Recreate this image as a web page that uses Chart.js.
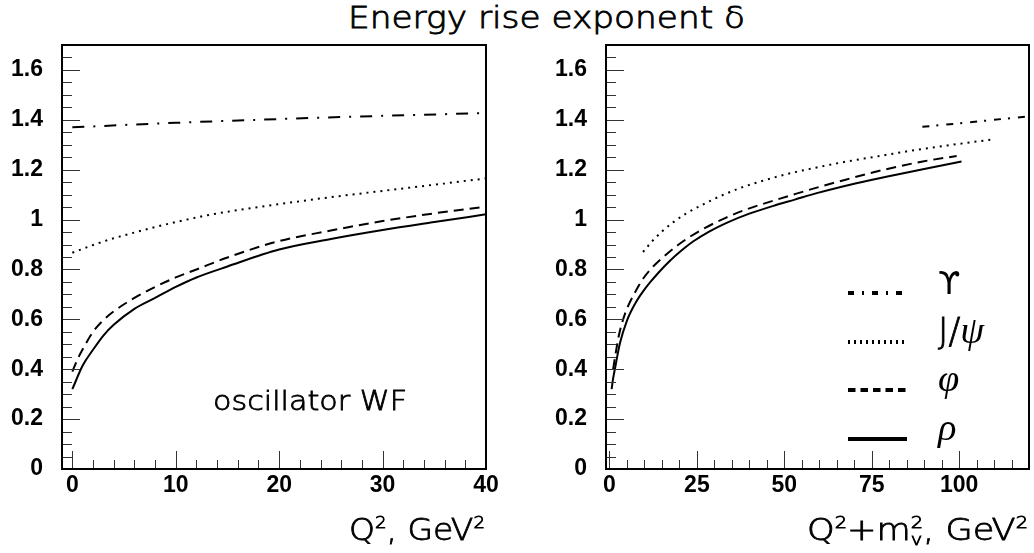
<!DOCTYPE html>
<html>
<head>
<meta charset="utf-8">
<script src="https://cdn.jsdelivr.net/npm/chart.js@4.4.1/dist/chart.umd.min.js"></script>
<style>
  html, body { margin: 0; padding: 0; background: #fff; }
  #page { position: relative; width: 1034px; height: 553px; overflow: hidden; }
  #title { position: absolute; left: 348px; top: 3px; white-space: nowrap;
           font: 200 30px "DejaVu Sans"; line-height: 30px; color: #000;
           -webkit-text-stroke: 0.8px #000; transform-origin: 0 0; }
  canvas { position: absolute; top: 0; }
</style>
</head>
<body>
<div id="page">
  <div id="title">Energy rise exponent δ</div>
  <canvas id="leftchart" width="517" height="553" style="left:0"></canvas>
  <canvas id="rightchart" width="517" height="553" style="left:517px"></canvas>
</div>
<script>
  // Tick values
  const yTicks = [0, 0.2, 0.4, 0.6, 0.8, 1, 1.2, 1.4, 1.6];
  const xTicksLeft = [0, 10, 20, 30, 40];
  const xTicksRight = [0, 25, 50, 75, 100];

  // LEFT PANEL: delta vs Q^2 (oscillator WF)
  const q2_rho = [0, 1, 2, 3, 4, 6, 8, 10, 12, 15, 20, 25, 30, 35, 40];
  const delta_rho = [0.32, 0.415, 0.478, 0.535, 0.578, 0.642, 0.686, 0.73, 0.768, 0.812, 0.88, 0.922, 0.958, 0.99, 1.021];
  const q2_phi = [0, 0.5, 1, 2, 3, 4, 6, 8, 10, 12, 15, 20, 25, 30, 35, 40];
  const delta_phi = [0.39, 0.44, 0.48, 0.55, 0.597, 0.632, 0.686, 0.73, 0.768, 0.80, 0.848, 0.914, 0.956, 0.994, 1.025, 1.052];
  const q2_jpsi = [0, 2, 4, 6, 8, 10, 13, 16, 20, 25, 30, 35, 40];
  const delta_jpsi = [0.867, 0.898, 0.925, 0.948, 0.97, 0.99, 1.017, 1.038, 1.062, 1.09, 1.115, 1.14, 1.165];
  const q2_ups = [0, 10, 20, 30, 40];
  const delta_ups = [1.37, 1.388, 1.403, 1.416, 1.427];

  // RIGHT PANEL: delta vs Q^2 + mV^2
  const s_rho = [0.6, 1.0, 1.6, 3, 5, 7.3, 9.5, 11.6, 14, 17.3, 20.5, 24, 28.5, 33.5, 40, 46.9, 53, 59.3, 67, 74.5, 82, 90, 100.7];
  const d_rho = [0.32, 0.36, 0.405, 0.505, 0.595, 0.662, 0.71, 0.748, 0.787, 0.835, 0.875, 0.913, 0.952, 0.987, 1.024, 1.055, 1.08, 1.106, 1.134, 1.158, 1.18, 1.203, 1.233];
  const s_phi = [1.04, 1.6, 2.6, 4.5, 7, 9.7, 12.5, 15.9, 19.5, 23.1, 27.5, 32.6, 39, 46.9, 53, 59.3, 67, 74.5, 82, 90, 99.3];
  const d_phi = [0.40, 0.45, 0.53, 0.625, 0.70, 0.765, 0.812, 0.856, 0.897, 0.932, 0.968, 1.003, 1.04, 1.076, 1.102, 1.128, 1.158, 1.186, 1.211, 1.234, 1.255];
  const s_jpsi = [9.6, 12, 15, 18.3, 22, 27.8, 32, 37.3, 42, 46.9, 53, 59.3, 66, 77.3, 88, 98, 109];
  const d_jpsi = [0.87, 0.91, 0.952, 0.99, 1.025, 1.068, 1.096, 1.126, 1.148, 1.168, 1.19, 1.209, 1.228, 1.255, 1.28, 1.30, 1.32];
  const s_ups = [89.5, 100, 110, 120];
  const d_ups = [1.372, 1.386, 1.400, 1.414];

  const SANS = '"DejaVu Sans"';
  const SERIF = '"Liberation Serif"';

  function toPoints(xs, ys) {
    return xs.map((x, i) => ({ x: x, y: ys[i] }));
  }

  // text with super/subscripts, optionally stretched to a target width
  function drawRich(ctx, segs, x, y, size, align, targetW) {
    let end = 0, prevStart = 0;
    const items = [];
    segs.forEach(s => {
      const sz = size * (s.scale || 1);
      const font = (s.style || 'normal') + ' ' + (s.weight || 200) + ' ' + sz + 'px ' + (s.family || SANS);
      ctx.font = font;
      const w = ctx.measureText(s.t).width;
      const start = s.stack ? prevStart : end;
      items.push({ t: s.t, font: font, x: start, dy: -(s.rise || 0) * size, stroke: !s.family });
      prevStart = start;
      end = Math.max(end, start + w);
    });
    const sx = targetW ? targetW / end : 1;
    const x0 = align === 'right' ? x - end * sx : align === 'center' ? x - end * sx / 2 : x;
    ctx.save();
    ctx.translate(x0, y);
    ctx.scale(sx, 1);
    ctx.fillStyle = '#000';
    ctx.strokeStyle = '#000';
    ctx.lineWidth = 0.8;
    ctx.textAlign = 'left';
    ctx.textBaseline = 'alphabetic';
    items.forEach(it => {
      ctx.font = it.font;
      ctx.fillText(it.t, it.x, it.dy);
      if (it.stroke) ctx.strokeText(it.t, it.x, it.dy);
    });
    ctx.restore();
  }

  // Frame with inward ticks, axis title, extra text
  const framePlugin = {
    id: 'frame',
    afterDatasetsDraw(chart, args, opts) {
      const { ctx, chartArea: a, scales: { x, y } } = chart;
      ctx.save();
      ctx.strokeStyle = '#333';
      ctx.lineWidth = 1;
      ctx.beginPath();
      for (let v = 0; v <= y.max + 1e-9; v += 0.05) {
        const major = Math.abs(v / 0.2 - Math.round(v / 0.2)) < 1e-6;
        const py = Math.round(y.getPixelForValue(v)) + 0.5;
        ctx.moveTo(a.left, py);
        ctx.lineTo(a.left + (major ? 18 : 10), py);
      }
      for (let v = 0; v <= x.max + 1e-9; v += opts.minor) {
        const major = Math.abs(v / opts.major - Math.round(v / opts.major)) < 1e-6;
        const px = Math.round(x.getPixelForValue(v)) + 0.5;
        ctx.moveTo(px, a.bottom);
        ctx.lineTo(px, a.bottom - (major ? 18 : 9));
      }
      ctx.stroke();
      ctx.strokeStyle = '#000';
      ctx.lineWidth = 2;
      ctx.strokeRect(a.left, a.top, a.right - a.left, a.bottom - a.top);
      ctx.restore();

      drawRich(ctx, opts.xTitle, a.right - 1, 540, 30, 'right', opts.xTitleWidth);
      if (opts.note) {
        drawRich(ctx, [{ t: opts.note }], 310, 410, 27, 'center', 194);
      }
    }
  };

  // Legend drawn inside the right panel
  const legendPlugin = {
    id: 'sideLegend',
    afterDatasetsDraw(chart, args, opts) {
      const ctx = chart.ctx;
      chart.data.datasets.forEach((ds, i) => {
        const yRow = opts.rows[i];
        ctx.save();
        ctx.strokeStyle = '#000';
        ctx.lineWidth = 4;
        ctx.setLineDash(ds.legendDash);
        ctx.beginPath();
        ctx.moveTo(opts.x0, yRow);
        ctx.lineTo(opts.x1, yRow);
        ctx.stroke();
        ctx.restore();
        drawRich(ctx, ds.legendText, opts.textX, yRow + 1, 32, 'left');
      });
    }
  };

  function makeDataset(label, points, dash, legendDash, legendText) {
    return {
      label: label,
      data: points,
      borderColor: '#000',
      borderWidth: 2,
      borderDash: dash,
      pointRadius: 0,
      fill: false,
      cubicInterpolationMode: 'monotone',
      legendDash: legendDash,
      legendText: legendText
    };
  }

  function panelScales(xMin, xMax, xTicks, yWidth) {
    const tickFont = { family: '"Liberation Sans", Arial, sans-serif', size: 23, weight: 'bold' };
    return {
      x: {
        type: 'linear', min: xMin, max: xMax,
        afterBuildTicks: s => { s.ticks = xTicks.map(v => ({ value: v })); },
        afterFit: s => { s.height = 84; },
        grid: { display: false, drawTicks: false },
        border: { display: false },
        ticks: { font: tickFont, color: '#000', padding: 3, maxRotation: 0, autoSkip: false,
                 callback: v => String(v) }
      },
      y: {
        type: 'linear', min: 0, max: 1.7,
        afterBuildTicks: s => { s.ticks = yTicks.map(v => ({ value: v })); },
        afterFit: s => { s.width = yWidth; },
        grid: { display: false, drawTicks: false },
        border: { display: false },
        ticks: { font: tickFont, color: '#000', padding: 19, autoSkip: false,
                 callback: v => String(Math.round(v * 10) / 10) }
      }
    };
  }

  // Setup Block - left
  const data_left = {
    datasets: [
      makeDataset('Upsilon', toPoints(q2_ups, delta_ups), [12, 9, 2, 9]),
      makeDataset('J/psi', toPoints(q2_jpsi, delta_jpsi), [2, 5]),
      makeDataset('phi', toPoints(q2_phi, delta_phi), [10, 6]),
      makeDataset('rho', toPoints(q2_rho, delta_rho), [])
    ]
  };

  // Config Block - left
  const config_left = {
    type: 'line',
    data: data_left,
    plugins: [framePlugin],
    options: {
      responsive: false,
      animation: false,
      events: [],
      layout: { padding: { top: 45, right: 31, left: 0, bottom: 0 } },
      scales: panelScales(-1, 40, xTicksLeft, 62),
      plugins: {
        legend: { display: false },
        tooltip: { enabled: false },
        frame: {
          minor: 2, major: 10,
          xTitle: [{ t: 'Q' }, { t: '2', scale: 0.55, rise: 0.4 }, { t: ', GeV' }, { t: '2', scale: 0.55, rise: 0.4 }],
          xTitleWidth: 136,
          note: 'oscillator WF'
        }
      }
    }
  };

  // Render Block - left
  const leftchart = new Chart(document.getElementById('leftchart'), config_left);

  // Setup Block - right
  const data_right = {
    datasets: [
      makeDataset('Upsilon', toPoints(s_ups, d_ups), [7, 7, 2, 8], [6, 8, 2, 8],
        [{ t: 'ϒ', weight: 400, family: SANS }]),
      makeDataset('J/psi', toPoints(s_jpsi, d_jpsi), [2, 5], [2, 4],
        [{ t: 'J/', scale: 1.1 }, { t: 'ψ', style: 'italic', weight: 400, family: SERIF, scale: 1.2 }]),
      makeDataset('phi', toPoints(s_phi, d_phi), [10, 6], [7.5, 5],
        [{ t: 'φ', style: 'italic', weight: 400, family: SERIF, scale: 1.2 }]),
      makeDataset('rho', toPoints(s_rho, d_rho), [], [],
        [{ t: 'ρ', style: 'italic', weight: 400, family: SERIF, scale: 1.2 }])
    ]
  };

  // Config Block - right
  const config_right = {
    type: 'line',
    data: data_right,
    plugins: [framePlugin, legendPlugin],
    options: {
      responsive: false,
      animation: false,
      events: [],
      layout: { padding: { top: 45, right: 5, left: 0, bottom: 0 } },
      scales: panelScales(-1, 120, xTicksRight, 89),
      plugins: {
        legend: { display: false },
        tooltip: { enabled: false },
        frame: {
          minor: 5, major: 25,
          xTitle: [{ t: 'Q' }, { t: '2', scale: 0.55, rise: 0.4 }, { t: '+m' },
                   { t: '2', scale: 0.55, rise: 0.4 }, { t: 'v', scale: 0.55, rise: -0.18, stack: true },
                   { t: ', GeV' }, { t: '2', scale: 0.55, rise: 0.4 }],
          xTitleWidth: 221
        },
        sideLegend: { rows: [293, 342, 390, 439], x0: 331, x1: 390, textX: 421 }
      }
    }
  };

  // Render Block - right
  const rightchart = new Chart(document.getElementById('rightchart'), config_right);

  // stretch the page title to the width of the original
  const title = document.getElementById('title');
  title.style.transform = 'scaleX(' + (397 / title.offsetWidth) + ')';
</script>
</body>
</html>
